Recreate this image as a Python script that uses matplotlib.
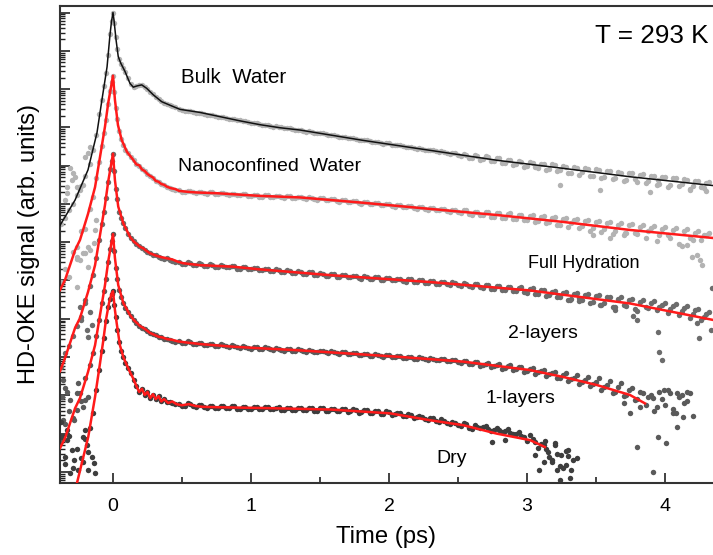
import numpy as np
import matplotlib
matplotlib.use("Agg")
import matplotlib.pyplot as plt
from matplotlib.ticker import FixedLocator, NullFormatter, MultipleLocator

plt.rcParams['font.family'] = ['Liberation Sans', 'DejaVu Sans']

# ---------------- data (signal given as log10 of the HD-OKE signal, arb. units) ----------------
# fitted / smoothed curves
bulk_fit_t = [-0.384,-0.275,-0.181,-0.116,-0.080,-0.043,-0.022,-0.011,0.0,0.007,0.022,0.038,0.056,0.087,0.123,
              0.147,0.172,0.208,0.244,0.292,0.353,0.425,0.486,0.630,0.775,0.920,1.065,1.210,1.355,1.812,
              2.297,2.783,3.261,3.746,4.348]
bulk_fit_log = [6.44,7.10,7.89,8.86,9.72,10.58,11.41,11.76,12.0,11.81,11.29,10.85,10.68,10.46,10.15,
                10.05,10.08,10.11,10.02,9.85,9.67,9.56,9.47,9.39,9.28,9.17,9.07,8.99,8.93,8.66,
                8.40,8.14,7.93,7.71,7.48]

nano_fit_t = [-0.384,-0.348,-0.275,-0.239,-0.181,-0.130,-0.094,-0.058,-0.034,-0.014,0.0,0.014,0.036,0.063,0.101,
              0.147,0.17,0.19,0.21,0.23,0.25,0.27,0.29,0.31,0.33,0.35,0.37,0.39,0.42,0.45,
              0.48,0.53,0.60,0.75,1.065,1.355,1.812,2.297,2.783,3.261,3.746,4.348]
nano_fit_log = [4.75,5.01,5.79,6.06,6.74,7.44,8.23,9.02,9.65,10.06,10.35,9.72,9.06,8.67,8.36,
                8.15,8.03,8.01,7.90,7.86,7.78,7.73,7.69,7.60,7.58,7.52,7.50,7.45,7.41,7.39,
                7.34,7.32,7.30,7.28,7.21,7.17,7.03,6.87,6.71,6.53,6.32,6.11]

full_fit_t = [-0.384,-0.348,-0.275,-0.239,-0.181,-0.130,-0.094,-0.058,-0.034,-0.014,0.0,0.014,0.038,0.075,0.123,
              0.15,0.17,0.196,0.22,0.24,0.268,0.29,0.32,0.35,0.389,0.43,0.47,0.509,0.630,0.872,
              1.065,1.572,2.297,3.022,3.746,4.348]
full_fit_log = [2.63,2.97,3.76,4.02,4.70,5.40,6.19,6.97,7.60,8.02,8.31,7.62,6.93,6.49,6.14,
                6.02,5.96,5.88,5.84,5.78,5.71,5.68,5.64,5.61,5.58,5.55,5.49,5.45,5.40,5.36,
                5.29,5.14,4.96,4.74,4.40,3.97]

two_fit_t = [-0.384,-0.348,-0.275,-0.239,-0.181,-0.130,-0.094,-0.058,-0.034,-0.014,0.0,0.014,0.038,0.075,0.123,
             0.15,0.17,0.196,0.22,0.24,0.268,0.30,0.33,0.36,0.389,0.43,0.47,0.509,0.630,0.872,
             1.065,1.331,2.056,2.538,3.022,3.263,3.505,3.746,3.855]
two_fit_log = [0.62,0.88,1.66,1.93,2.61,3.31,4.10,4.88,5.51,5.93,6.21,5.59,4.88,4.41,4.10,
               3.97,3.90,3.81,3.76,3.71,3.63,3.58,3.53,3.51,3.47,3.45,3.41,3.39,3.34,3.27,
               3.23,3.18,3.01,2.88,2.66,2.48,2.27,2.01,1.79]

one_fit_t = [-0.261,-0.179,-0.130,-0.094,-0.070,-0.051,-0.029,-0.011,0.0,0.014,0.027,0.05,0.075,0.10,0.123,
             0.145,0.17,0.19,0.21,0.23,0.25,0.27,0.29,0.31,0.33,0.35,0.37,0.40,0.43,0.46,
             0.50,0.55,0.60,0.65,0.75,0.90,1.065,1.572,2.007,2.297,2.538,2.780,3.022,3.130]
one_fit_log = [-0.29,0.92,1.96,2.84,3.44,3.97,4.41,4.65,4.72,4.23,3.88,3.31,3.00,2.79,2.61,
               2.45,2.24,2.09,2.17,2.01,2.09,1.93,2.03,1.90,1.98,1.84,1.90,1.80,1.84,1.77,
               1.74,1.77,1.72,1.70,1.69,1.68,1.67,1.63,1.53,1.35,1.22,1.00,0.83,0.65]

# measured points: early times
t_early = [-0.38,-0.35,-0.32,-0.29,-0.26,-0.23,-0.20,-0.17,-0.145,-0.12,-0.10,-0.08,-0.065,-0.05,-0.035,
           -0.02,-0.01,0.0,0.01,0.02,0.03,0.045,0.06,0.075,0.09,0.11,0.13,0.15,0.17,0.19,
           0.21,0.23,0.25,0.27,0.29,0.31,0.33,0.35,0.37,0.39,0.41,0.43,0.45]
bulk_early = [6.47,6.64,6.85,7.01,7.22,7.47,7.73,8.04,8.42,8.80,9.34,9.72,10.07,10.42,10.89,
              11.45,11.78,12.0,11.72,11.35,11.05,10.78,10.65,10.54,10.44,10.29,10.12,10.05,10.08,10.11,
              10.10,10.06,10.00,9.93,9.86,9.80,9.73,9.68,9.64,9.61,9.58,9.55,9.52]
nano_early = [4.95,5.30,5.10,5.75,5.55,6.30,6.35,6.88,7.18,7.68,8.10,8.52,8.86,9.20,9.62,
              9.94,10.18,10.35,9.92,9.50,9.22,8.90,8.70,8.55,8.42,8.33,8.22,8.14,8.05,8.00,
              7.91,7.86,7.78,7.72,7.68,7.61,7.58,7.52,7.49,7.45,7.42,7.40,7.37]
full_early = [2.75,3.10,3.30,3.55,3.80,4.05,4.40,4.85,5.15,5.60,6.05,6.48,6.80,7.15,7.56,
              7.90,8.12,8.31,7.85,7.40,7.12,6.80,6.62,6.49,6.36,6.22,6.10,6.03,5.95,5.91,
              5.84,5.80,5.74,5.72,5.67,5.66,5.61,5.60,5.57,5.58,5.53,5.52,5.48]
two_early = [0.80,1.25,1.60,1.40,2.05,1.85,2.45,2.80,3.10,3.55,3.98,4.40,4.72,5.05,5.48,
             5.82,6.03,6.21,5.78,5.32,5.05,4.75,4.56,4.41,4.29,4.17,4.06,3.97,3.89,3.82,
             3.77,3.72,3.67,3.64,3.60,3.57,3.53,3.52,3.48,3.48,3.44,3.43,3.40]
one_early = [1.30,0.20,0.95,0.10,0.60,0.35,0.85,1.15,1.55,2.15,2.65,3.15,3.50,3.95,4.30,
             4.52,4.66,4.72,4.35,4.05,3.70,3.40,3.15,3.00,2.85,2.72,2.58,2.40,2.24,2.10,
             2.16,2.02,2.08,1.94,2.02,1.90,1.97,1.85,1.90,1.82,1.83,1.80,1.77]

# measured points: later times (two interleaved sampling sets)
t_late = [0.48,0.52,0.56,0.60,0.64,0.68,0.72,0.76,0.80,0.84,0.88,0.92,0.96,1.00,1.04,1.08,1.12,1.16,1.20,1.24,
          1.28,1.32,1.36,1.40,1.44,1.48,1.52,1.56,1.60,1.64,1.68,1.72,1.76,1.80,1.84,1.88,1.92,1.96,2.00,2.04,
          2.08,2.12,2.16,2.20,2.24,2.28,2.32,2.36,2.40,2.44,2.48,2.52,2.56,2.60,2.64,2.68,2.72,2.76,2.80,2.84,
          2.88,2.92,2.96,3.00,3.04,3.08,3.12,3.16,3.20,3.24,3.28,3.32,3.36,3.40,3.44,3.48,3.52,3.56,3.60,3.64,
          3.68,3.72,3.76,3.80,3.84,3.88,3.92,3.96,4.00,4.04,4.08,4.12,4.16,4.20,4.24,4.28,4.32]
t_late_b = [0.50,0.54,0.58,0.62,0.66,0.70,0.74,0.78,0.82,0.86,0.90,0.94,0.98,1.02,1.06,1.10,1.14,1.18,1.22,1.26,
            1.30,1.34,1.38,1.42,1.46,1.50,1.54,1.58,1.62,1.66,1.70,1.74,1.78,1.82,1.86,1.90,1.94,1.98,2.02,2.06,
            2.10,2.14,2.18,2.22,2.26,2.30,2.34,2.38,2.42,2.46,2.50,2.54,2.58,2.62,2.66,2.70,2.74,2.78,2.82,2.86,
            2.90,2.94,2.98,3.02,3.06,3.10,3.14,3.18,3.22,3.26,3.30,3.34,3.38,3.42,3.46,3.50,3.54,3.58,3.62,3.66,
            3.70,3.74,3.78,3.82,3.86,3.90,3.94,3.98,4.02,4.06,4.10,4.14,4.18,4.22,4.26,4.30]

bulk_late = [9.48,9.44,9.43,9.38,9.37,9.33,9.32,9.27,9.27,9.22,9.21,9.18,9.16,9.11,9.11,9.07,9.06,9.02,9.02,8.98,
             8.98,8.93,8.93,8.89,8.89,8.84,8.84,8.80,8.80,8.75,8.75,8.71,8.70,8.66,8.66,8.62,8.61,8.57,8.59,8.53,
             8.53,8.48,8.48,8.44,8.44,8.40,8.40,8.36,8.36,8.31,
             8.33,8.25,8.29,8.21,8.26,8.17,8.23,8.12,8.19,8.08,8.15,8.05,8.10,8.00,8.08,7.94,8.03,7.90,8.01,7.88,
             7.97,7.80,7.95,7.84,7.90,7.74,7.89,7.70,7.86,7.69,7.82,7.62,7.80,7.58,7.77,7.60,7.72,7.53,7.70,7.49,
             7.68,7.52,7.62,7.46,7.60,7.42,7.56]
bulk_late_b = [9.45,9.44,9.40,9.37,9.35,9.33,9.29,9.28,9.24,9.22,9.19,9.17,9.13,9.12,9.09,9.07,9.04,9.03,9.00,8.98,
               8.96,8.94,8.91,8.90,8.86,8.85,8.82,8.81,8.77,8.76,8.73,8.71,8.68,8.67,8.64,8.62,8.59,8.58,8.55,8.54,
               8.50,8.49,8.46,8.45,8.42,8.41,8.38,8.37,8.33,8.32,
               8.27,8.31,8.20,8.27,8.16,8.24,8.11,8.20,8.07,8.16,8.02,8.13,7.97,8.09,7.96,8.05,7.88,8.03,7.85,7.99,
               7.82,7.96,7.76,7.93,7.72,7.90,7.68,7.86,7.66,7.84,7.60,7.80,7.64,7.76,7.55,7.74,7.50,7.71,7.44,7.68,
               7.48,7.64,7.40,7.60,7.45,7.55]
nano_late = [7.36,7.31,7.34,7.29,7.32,7.27,7.30,7.26,7.29,7.24,7.27,7.22,7.25,7.20,7.23,7.19,7.22,7.17,7.21,7.16,
             7.20,7.15,7.19,7.14,7.16,7.11,7.15,7.09,7.12,7.06,7.09,7.04,7.07,7.01,7.05,6.99,7.02,6.96,7.00,6.93,
             6.97,6.91,6.94,6.88,6.92,6.85,6.89,6.83,6.87,6.80,
             6.85,6.76,6.83,6.72,6.80,6.70,6.78,6.66,6.77,6.64,6.75,6.61,6.72,6.58,6.70,6.55,6.68,6.52,6.66,6.45,
             6.63,6.50,6.60,6.42,6.58,6.38,6.55,6.35,6.52,6.30,6.50,6.25,6.48,6.22,6.45,6.28,6.42,6.18,6.40,6.10,
             6.38,5.90,6.35,6.05,6.30,6.20,6.25]
nano_late_b = [7.32,7.34,7.30,7.32,7.28,7.30,7.26,7.29,7.25,7.27,7.23,7.25,7.21,7.23,7.19,7.22,7.18,7.21,7.17,7.20,
               7.16,7.19,7.15,7.17,7.12,7.15,7.10,7.12,7.07,7.10,7.05,7.07,7.02,7.05,7.00,7.02,6.97,7.00,6.95,6.97,
               6.92,6.95,6.89,6.92,6.87,6.89,6.84,6.87,6.82,6.84,
               6.78,6.83,6.74,6.80,6.71,6.78,6.67,6.75,6.64,6.73,6.60,6.70,6.57,6.68,6.52,6.66,6.49,6.63,6.44,6.60,
               6.40,6.58,6.36,6.55,6.30,6.52,6.27,6.50,6.22,6.46,6.18,6.44,6.24,6.40,6.12,6.38,6.02,6.35,6.20,6.32,
               5.95,6.28,6.10,6.25,6.05,6.20]
full_late = [5.49,5.44,5.46,5.40,5.43,5.38,5.41,5.36,5.39,5.34,5.37,5.31,5.34,5.29,5.32,5.27,5.30,5.25,5.27,5.22,
             5.26,5.19,5.23,5.17,5.21,5.15,5.18,5.12,5.16,5.10,5.14,5.08,5.12,5.05,5.10,5.03,5.08,5.01,5.06,5.00,
             5.04,4.97,5.03,4.95,5.00,4.93,4.98,4.91,4.96,4.89,
             4.94,4.86,4.92,4.84,4.90,4.80,4.89,4.78,4.86,4.76,4.84,4.72,4.82,4.68,4.80,4.66,4.74,4.62,4.72,4.58,
             4.70,4.52,4.68,4.50,4.64,4.44,4.62,4.40,4.58,4.30,4.56,4.34,4.52,4.20,4.48,4.28,4.46,4.30,4.42,4.25,
             4.38,4.20,4.33,4.12,4.26,4.05,4.18]
full_late_b = [5.44,5.48,5.41,5.45,5.38,5.42,5.36,5.40,5.34,5.38,5.31,5.36,5.29,5.33,5.27,5.31,5.24,5.29,5.22,5.27,
               5.19,5.24,5.17,5.21,5.15,5.19,5.12,5.17,5.10,5.15,5.08,5.13,5.06,5.11,5.04,5.09,5.02,5.07,5.00,5.05,
               4.98,5.03,4.96,5.01,4.94,4.99,4.92,4.97,4.90,4.95,
               4.88,4.93,4.85,4.90,4.82,4.88,4.79,4.85,4.76,4.83,4.72,4.80,4.70,4.77,4.65,4.74,4.60,4.71,4.56,4.68,
               4.50,4.66,4.46,4.63,4.42,4.60,4.36,4.57,4.32,4.52,4.35,4.48,4.25,4.45,4.30,4.40,4.22,4.37,4.15,4.34,
               4.10,4.28,4.02,4.22,3.98,4.12]
two_late = [3.42,3.37,3.39,3.33,3.36,3.31,3.34,3.28,3.31,3.26,3.29,3.24,3.27,3.22,3.25,3.20,3.24,3.19,3.22,3.17,
            3.20,3.16,3.19,3.14,3.17,3.12,3.16,3.11,3.14,3.09,3.12,3.07,3.10,3.05,3.08,3.03,3.06,3.01,3.05,2.99,
            3.02,2.97,3.00,2.95,2.98,2.93,2.96,2.91,2.94,2.89,
            2.91,2.84,2.89,2.82,2.86,2.78,2.85,2.76,2.81,2.72,2.79,2.68,2.75,2.64,2.72,2.60,2.66,2.55,2.62,2.46,
            2.58,2.42,2.52,2.36,2.48,2.30,2.44,2.22,2.38,2.10,2.32,2.02,2.20,1.90,2.05,
            1.95,1.60,2.10,1.75,2.05,1.55,2.00,1.85,1.45]
two_late_b = [3.38,3.41,3.35,3.38,3.32,3.35,3.30,3.33,3.28,3.31,3.26,3.29,3.24,3.27,3.22,3.25,3.21,3.23,3.19,3.22,
              3.17,3.20,3.16,3.18,3.14,3.17,3.12,3.15,3.10,3.13,3.08,3.11,3.06,3.09,3.04,3.07,3.02,3.05,3.00,3.03,
              2.98,3.01,2.96,2.99,2.94,2.97,2.92,2.95,2.89,2.92,
              2.86,2.90,2.82,2.86,2.77,2.83,2.74,2.80,2.70,2.76,2.66,2.73,2.62,2.68,2.56,2.64,2.50,2.58,2.44,2.52,
              2.38,2.46,2.30,2.40,2.24,2.34,2.15,2.28,2.05,2.22,1.98,2.15,1.88,2.08,1.75,
              2.00,1.70,1.90,2.15,1.65,1.95,1.80,2.05]
one_late = [1.78,1.73,1.78,1.70,1.74,1.68,1.72,1.66,1.72,1.66,1.71,1.65,1.70,1.64,1.70,1.64,1.69,1.63,1.69,1.62,
            1.68,1.62,1.67,1.61,1.67,1.60,1.66,1.60,1.65,1.59,1.64,1.58,1.62,1.56,1.61,1.53,1.59,1.52,1.57,1.50,
            1.54,1.47,1.48,1.43,1.44,1.35,1.40,1.30,1.34,1.24,
            1.28,1.19,1.24,1.12,1.18,1.16,1.13,1.10,1.09,1.06,1.02,1.00,0.95,0.80,0.86,0.62,0.70,
            0.40,0.75,0.15,0.55,0.05,0.35]
one_late_b = [1.73,1.79,1.72,1.76,1.69,1.73,1.67,1.72,1.66,1.71,1.65,1.70,1.64,1.70,1.63,1.69,1.63,1.68,1.62,1.68,
              1.61,1.67,1.61,1.66,1.60,1.66,1.59,1.65,1.58,1.64,1.57,1.63,1.55,1.61,1.53,1.60,1.51,1.58,1.49,1.55,
              1.45,1.50,1.41,1.46,1.37,1.42,1.32,1.37,1.27,1.31,
              1.22,1.27,1.15,1.22,1.14,1.20,1.08,1.15,1.04,1.12,0.98,1.05,0.90,0.96,0.78,0.72,
              0.60,0.25,0.48,0.10,0.42]

# scattered (noisy) points
light_noise_t = [-0.35,-0.33,-0.33,-0.31,-0.30,-0.29,-0.275,-0.26,-0.24,-0.22,-0.20,-0.18,-0.17,
                 -0.26,-0.26,-0.26,-0.24,-0.22,-0.20,-0.18,-0.18,-0.17,-0.14,-0.13,-0.12,
                 3.48,3.60,3.71,4.16,4.196,4.23,4.254,4.268,3.24,3.53,3.89,3.95,4.18,4.30]
light_noise_log = [7.10,7.28,7.44,7.93,7.63,7.80,7.70,7.44,7.36,7.49,8.23,8.33,8.49,
                   4.83,5.61,5.87,5.54,5.72,5.72,5.87,5.35,5.80,5.98,6.32,6.58,
                   6.19,6.11,6.24,5.93,5.61,5.66,5.53,5.40,7.50,7.36,7.31,7.62,7.36,7.35]
full_noise_t = [-0.24,-0.20,-0.17,-0.23,-0.19,-0.15,-0.18,
                3.77,3.80,3.95,3.96,3.98,4.23,4.25,4.33,4.34,3.31,3.53,3.64,3.38]
full_noise_log = [4.31,4.49,4.18,3.97,3.70,3.84,3.53,
                  4.07,3.97,3.65,3.13,2.92,3.89,3.50,3.70,4.80,4.49,4.36,4.23,4.54]
two_noise_t = [-0.36,-0.35,-0.33,-0.37,-0.31,-0.25,-0.24,-0.26,-0.22,-0.20,-0.18,-0.28,-0.36,
               3.80,3.91,3.95,4.01,4.09,4.13,3.91,3.99,4.09,4.16,3.70,3.75,3.82,4.06]
two_noise_log = [2.40,2.18,2.08,1.95,1.87,2.32,2.06,1.61,1.69,1.87,1.95,1.35,1.35,
                 0.65,-0.01,0.91,0.75,1.17,1.43,1.92,2.14,2.06,2.08,1.80,1.53,1.69,1.53]
one_noise_t = [-0.33,-0.33,-0.30,-0.35,-0.28,-0.25,-0.31,-0.19,-0.18,-0.15,-0.14,-0.18,-0.22,-0.13,-0.37,-0.20,-0.22,
               3.13,3.15,3.18,3.20,3.22,3.25,3.28,3.30,3.31,3.33,3.24,3.09,3.12,3.06,2.75,2.84]
one_noise_log = [1.09,0.83,0.57,0.38,0.31,0.04,-0.03,0.70,0.52,0.38,0.23,0.04,0.25,-0.03,0.91,1.09,0.91,
                 0.80,0.52,0.31,0.70,0.04,0.44,0.17,0.57,-0.16,0.31,-0.22,0.04,0.25,0.44,0.78,0.83]

# ---------------- figure ----------------
fig = plt.figure(figsize=(7.13, 5.55), dpi=100)
ax = fig.add_axes([60/713, 1-483/555, 1-60/713, (483-6)/555])
ax.set_yscale('log')

LIGHT = '#b3b3b3'
C_FULL = '#6c6c6c'
C_TWO = '#5a5a5a'
C_ONE = '#3e3e3e'
MS = 3.9

def dots(t, logv, color):
    n = min(len(t), len(logv))
    ax.plot(np.asarray(t[:n]), 10.0**np.asarray(logv[:n]), 'o', ms=MS, color=color,
            mec='none', zorder=2)

def curve(t, logv, color, lw):
    ax.plot(np.asarray(t), 10.0**np.asarray(logv), '-', color=color, lw=lw, zorder=3)

# bulk water
dots(t_early, bulk_early, LIGHT)
dots(t_late, bulk_late, LIGHT)
dots(t_late_b, bulk_late_b, LIGHT)
# nanoconfined
dots(t_early, nano_early, LIGHT)
dots(t_late, nano_late, LIGHT)
dots(t_late_b, nano_late_b, LIGHT)
dots(light_noise_t, light_noise_log, LIGHT)
# dark data sets
dots(t_early, full_early, C_FULL)
dots(t_late, full_late, C_FULL)
dots(t_late_b, full_late_b, C_FULL)
dots(full_noise_t, full_noise_log, C_FULL)
dots(t_early, two_early, C_TWO)
dots(t_late, two_late, C_TWO)
dots(t_late_b, two_late_b, C_TWO)
dots(two_noise_t, two_noise_log, C_TWO)
dots(t_early, one_early, C_ONE)
dots(t_late, one_late, C_ONE)
dots(t_late_b, one_late_b, C_ONE)
dots(one_noise_t, one_noise_log, C_ONE)

curve(bulk_fit_t, bulk_fit_log, '#111111', 1.1)
RED = '#ff1a1a'
curve(nano_fit_t, nano_fit_log, RED, 1.8)
curve(full_fit_t, full_fit_log, RED, 1.8)
curve(two_fit_t, two_fit_log, RED, 1.8)
curve(one_fit_t, one_fit_log, RED, 1.8)

ax.set_xlim(-0.384, 4.348)
ax.set_ylim(10**-0.29, 10**12.17)

# ticks
ax.xaxis.set_major_locator(FixedLocator([0, 1, 2, 3, 4]))
ax.xaxis.set_minor_locator(MultipleLocator(0.5))
ax.yaxis.set_major_locator(FixedLocator([10.0**d for d in range(0, 13)]))
ax.yaxis.set_minor_locator(FixedLocator([m * 10.0**d for d in range(-1, 13) for m in range(2, 10)]))
ax.yaxis.set_major_formatter(NullFormatter())
ax.yaxis.set_minor_formatter(NullFormatter())
ax.tick_params(axis='x', which='major', direction='in', length=7.5, width=1.2,
               labelsize=14, pad=11, colors='#222222', labelcolor='black')
ax.tick_params(axis='x', which='minor', direction='in', length=4, width=1.2, colors='#222222')
ax.tick_params(axis='y', which='major', direction='in', length=7, width=1.2, colors='#222222')
ax.tick_params(axis='y', which='minor', direction='in', length=3.5, width=1.0, colors='#222222')
ax.tick_params(top=False, right=False, which='both')

for s in ['left', 'bottom', 'top']:
    ax.spines[s].set_linewidth(1.5)
    ax.spines[s].set_color('#333333')
ax.spines['right'].set_visible(False)

ax.set_xlabel('Time (ps)', fontsize=17.2, labelpad=8)
ax.set_ylabel('HD-OKE signal (arb. units)', fontsize=17, labelpad=11)

ax.text(3.493, 10**11.20, 'T = 293 K', fontsize=18.8, ha='left', va='baseline')
ax.text(0.493, 10**10.15, 'Bulk  Water', fontsize=14.8, ha='left', va='baseline')
ax.text(0.473, 10**7.87, 'Nanoconfined  Water', fontsize=14, ha='left', va='baseline')
ax.text(3.010, 10**5.32, 'Full Hydration', fontsize=13, ha='left', va='baseline')
ax.text(2.865, 10**3.49, '2-layers', fontsize=14, ha='left', va='baseline')
ax.text(2.696, 10**1.79, '1-layers', fontsize=14, ha='left', va='baseline')
ax.text(2.346, 10**0.22, 'Dry', fontsize=14, ha='left', va='baseline')

fig.savefig('out.png', dpi=100)
